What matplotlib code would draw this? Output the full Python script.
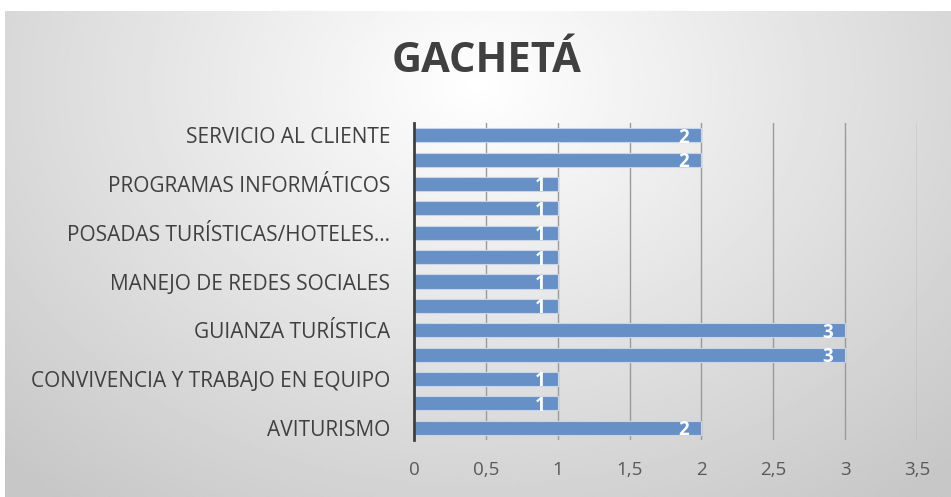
import numpy as np
import matplotlib
matplotlib.use('Agg')
from matplotlib import pyplot as plt

plt.rcParams['font.family'] = ['Open Sans', 'DejaVu Sans']

# bottom to top, as Excel draws them
values = [2, 1, 1, 3, 3, 1, 1, 1, 1, 1, 1, 2, 2]
labels = ['AVITURISMO', '', 'CONVIVENCIA Y TRABAJO EN EQUIPO', '',
          'GUIANZA TURÍSTICA', '', 'MANEJO DE REDES SOCIALES', '',
          'POSADAS TURÍSTICAS/HOTELES...', '', 'PROGRAMAS INFORMÁTICOS', '',
          'SERVICIO AL CLIENTE']
xticks = np.arange(0, 4, 0.5)
xticklabels = ['0', '0,5', '1', '1,5', '2', '2,5', '3', '3,5']
title = 'GACHETÁ'

W, H = 951, 497
fig = plt.figure(figsize=(W / 100, H / 100), dpi=100)
fig.patch.set_facecolor('white')

# gradient background of the chart area
bg = fig.add_axes([5 / W, 0, 1 - 5 / W, 1 - 11 / H])
yy, xx = np.mgrid[-1:1:200j, -1:1:400j]
r = np.sqrt((xx * 0.9) ** 2 + ((yy + 0.7) * 0.6) ** 2)
grad = 1.0 - 0.22 * np.clip(r, 0, 1.3) / 1.3
bg.imshow(grad, cmap='gray', vmin=0, vmax=1, aspect='auto', extent=[0, 1, 0, 1])
bg.set_axis_off()

left, right, top, bottom = 414, 917, 123, 440
ax = fig.add_axes([left / W, 1 - bottom / H, (right - left) / W, (bottom - top) / H])
ax.patch.set_alpha(0)

y = np.arange(len(values))
bars = ax.barh(y, values, height=0.58, color='#6690c6', edgecolor='#c7d6ea', linewidth=0.8, zorder=3)
for yi, v in zip(y, values):
    ax.text(v - 0.085, yi - 0.1, str(v), ha='right', va='center', color='white',
            fontsize=13.5, fontweight='bold', zorder=4)

ax.set_xlim(0, 3.5)
ax.set_ylim(-0.5, len(values) - 0.5)
ax.set_xticks(xticks)
ax.set_xticklabels(xticklabels, color='#595959', fontsize=13.5)
ax.set_yticks(y)
ax.set_yticklabels(labels, color='#404040', fontsize=15)
ax.tick_params(length=0, axis='x', pad=15)
ax.tick_params(length=0, axis='y', pad=17)
ax.grid(axis='x', color='#9a9a9a', linewidth=1, zorder=0)
for s in ['top', 'right', 'bottom']:
    ax.spines[s].set_visible(False)
ax.spines['left'].set_color('#404040')
ax.spines['left'].set_linewidth(2)
ax.spines['left'].set_zorder(5)

fig.text(487 / W, 1 - 62 / H, title, ha='center', va='center', fontsize=30,
         fontweight='bold', color='#404040')

fig.savefig('out.png', dpi=100)
